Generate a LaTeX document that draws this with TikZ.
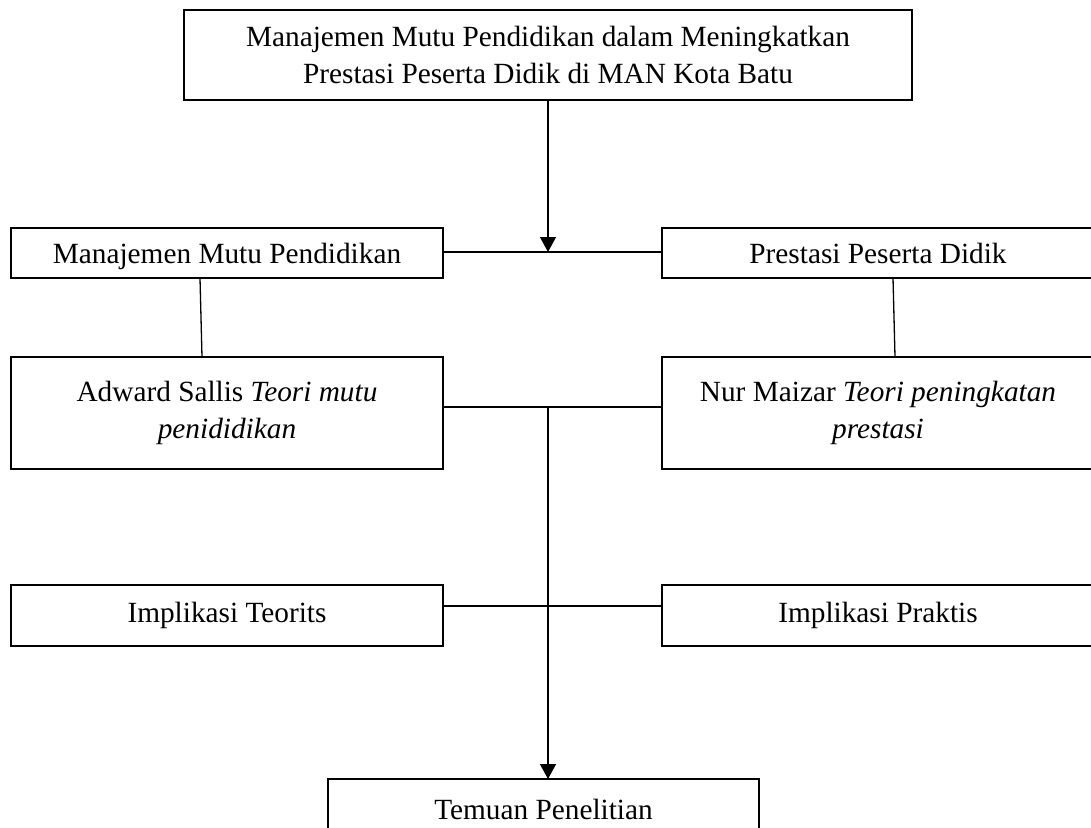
\documentclass[tikz,border=0pt]{standalone}
\usepackage{fontspec}
\setmainfont{Liberation Serif}
\usetikzlibrary{arrows.meta}
\begin{document}
\begin{tikzpicture}[x=1pt,y=-1pt,
  box/.style={draw,line width=1.6pt,inner sep=0pt,outer sep=0pt,minimum width=432pt,align=center,
    font=\fontsize{29.3}{37.5}\selectfont},
  conn/.style={line width=1.3pt},
  arr/.style={conn,-{Triangle[length=15pt,width=16pt]}}]
\useasboundingbox (0,0) rectangle (1091,827);
\clip (0,0) rectangle (1091,827);
\fill[white] (0,0) rectangle (1091,827);
\node[box,minimum width=728pt,minimum height=90pt] (top) at (548,55)
  {Manajemen Mutu Pendidikan dalam Meningkatkan\\Prestasi Peserta Didik di MAN Kota Batu};
\node[box,minimum height=50pt,text depth=0pt] (mmp) at (227,253) {Manajemen Mutu Pendidikan};
\node[box,minimum height=50pt,text depth=0pt] (ppd) at (878,253) {Prestasi Peserta Didik};
\node[box,minimum height=112pt] (sallis) at (227,413) {Adward Sallis \textit{Teori mutu}\\\textit{penididikan}};
\node[box,minimum height=112pt] (maizar) at (878,413) {Nur Maizar \textit{Teori peningkatan}\\\textit{prestasi}};
\node[box,minimum height=61pt] (teorits) at (227,615.5) {Implikasi Teorits};
\node[box,minimum height=61pt] (praktis) at (878,615.5) {Implikasi Praktis};
\node[box,minimum width=431pt,minimum height=61pt] (temuan) at (543.5,809.5) {Temuan Penelitian};
\coordinate (j1) at (548,252);
\coordinate (j2) at (548,407);
\draw[conn] ([yshift=1pt]mmp.east) -- ([yshift=1pt]ppd.west);
\draw[arr] (top.south) -- (j1);
\draw[conn] ([xshift=-27pt]mmp.south) -- ([xshift=-25pt]sallis.north);
\draw[conn] ([xshift=15pt]ppd.south) -- ([xshift=17pt]maizar.north);
\draw[conn] ([yshift=6pt]sallis.east) -- ([yshift=6pt]maizar.west);
\draw[conn] ([yshift=9.5pt]teorits.east) -- ([yshift=9.5pt]praktis.west);
\draw[arr] (j2) -- (j2 |- temuan.north);
\end{tikzpicture}
\end{document}
